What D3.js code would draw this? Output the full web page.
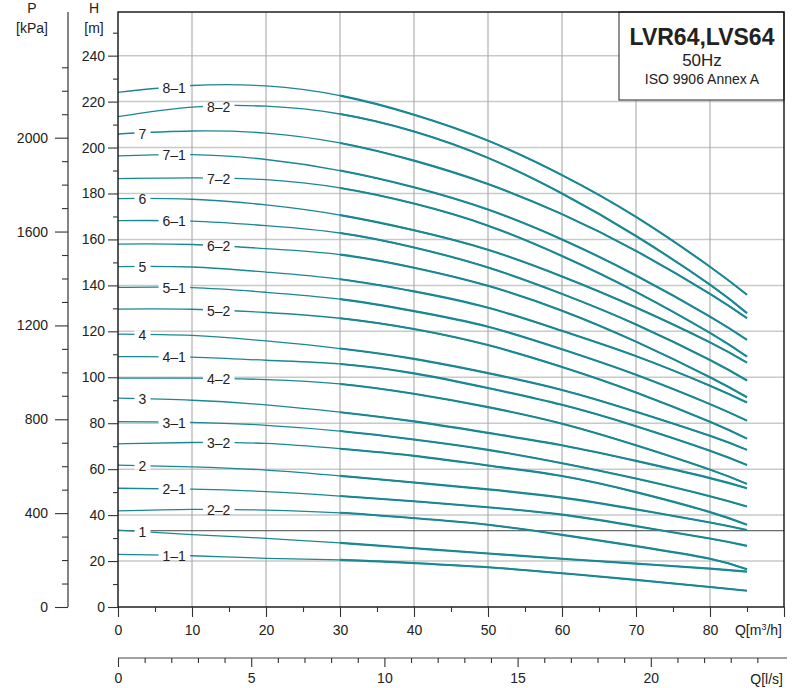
<!DOCTYPE html>
<html><head><meta charset="utf-8">
<script src="https://cdn.jsdelivr.net/npm/d3@7/dist/d3.min.js"></script>
<style>
body{margin:0;background:#fff}
svg{display:block}
text{font-family:"Liberation Sans",Arial,sans-serif;fill:#222}
</style>
</head><body>
<svg id="chart" width="800" height="688"></svg>
<script>
// ---- data ----
const flowQ = [0, 10, 20, 30, 40, 50, 60, 70, 80, 85];           // m3/h
const curveNames = ["8-1","8-2","7","7-1","7-2","6","6-1","6-2","5","5-1","5-2",
                    "4","4-1","4-2","3","3-1","3-2","2","2-1","2-2","1","1-1"];
const h8_1 = [224.0, 227.0, 226.8, 222.6, 214.3, 203.0, 188.0, 169.8, 148.1, 135.9];
const h8_2 = [213.5, 217.6, 218.0, 214.6, 207.0, 195.5, 180.0, 161.5, 140.3, 127.9];
const h7   = [205.9, 207.2, 206.3, 202.0, 194.3, 184.1, 171.0, 155.0, 136.3, 125.7];
const h7_1 = [196.4, 196.9, 194.8, 190.0, 182.7, 173.0, 160.0, 144.3, 126.4, 116.3];
const h7_2 = [186.5, 186.8, 186.0, 182.4, 175.6, 166.0, 152.8, 137.2, 119.3, 109.0];
const h6   = [177.8, 177.5, 175.0, 170.6, 164.0, 155.5, 143.9, 130.4, 115.2, 106.4];
const h6_1 = [168.2, 168.0, 166.0, 162.8, 156.5, 147.8, 136.3, 123.0, 107.5, 98.6];
const h6_2 = [158.0, 157.8, 156.0, 153.4, 147.7, 139.8, 129.0, 115.5, 100.0, 91.3];
const h5   = [148.2, 148.0, 145.8, 142.7, 137.4, 130.3, 120.2, 109.2, 96.3, 89.0];
const h5_1 = [139.1, 139.0, 137.0, 134.0, 128.8, 122.0, 112.2, 101.1, 88.3, 81.1];
const h5_2 = [129.7, 129.6, 128.2, 125.7, 121.0, 114.0, 104.5, 93.4, 80.6, 73.3];
const h4   = [118.8, 118.2, 115.8, 112.5, 108.0, 101.8, 94.5, 85.0, 74.5, 68.4];
const h4_1 = [109.0, 108.8, 107.4, 105.8, 101.7, 95.3, 88.0, 78.7, 68.0, 61.8];
const h4_2 = [99.6, 99.6, 99.0, 97.1, 92.8, 87.0, 79.8, 70.4, 59.8, 53.6];
const h3   = [90.9, 90.0, 88.0, 84.8, 80.8, 75.8, 70.4, 63.6, 56.1, 51.7];
const h3_1 = [80.7, 80.4, 79.1, 76.6, 72.9, 68.4, 62.6, 55.9, 48.2, 43.7];
const h3_2 = [71.0, 71.6, 71.2, 68.9, 65.8, 61.6, 57.0, 50.0, 41.3, 35.8];
const h2   = [61.8, 61.0, 59.6, 57.1, 54.2, 51.2, 47.6, 42.5, 36.8, 33.5];
const h2_1 = [51.7, 51.3, 50.2, 48.3, 46.0, 43.4, 40.2, 35.2, 29.8, 26.6];
const h2_2 = [41.8, 42.5, 42.2, 41.0, 38.7, 35.8, 31.4, 26.5, 21.0, 16.4];
const h1   = [33.5, 31.5, 29.9, 27.9, 25.6, 23.3, 21.0, 18.9, 16.7, 15.4];
const h1_1 = [22.9, 22.3, 21.2, 20.5, 19.1, 17.3, 14.7, 11.8, 8.7, 7.1];
const headSeries = [h8_1,h8_2,h7,h7_1,h7_2,h6,h6_1,h6_2,h5,h5_1,h5_2,
                    h4,h4_1,h4_2,h3,h3_1,h3_2,h2,h2_1,h2_2,h1,h1_1];
const referenceHead = 33.2;                 // dark horizontal line
const hTicks = d3.range(0, 241, 20);
const pTicks = [0, 400, 800, 1200, 1600, 2000];
const lsTicks = [0, 5, 10, 15, 20];
const titleLines = ["LVR64,LVS64", "50Hz", "ISO 9906 Annex A"];

// ---- layout ----
const L = 118, R = 784, T = 12, B = 607;
const svg = d3.select("#chart");
const x = d3.scaleLinear().domain([0, 90]).range([L, R]);
const y = d3.scaleLinear().domain([0, 259]).range([B, T]);
const kPaPerM = 9.79;
const p = d3.scaleLinear().domain([0, 259 * kPaPerM]).range([B, T]);
const ls = d3.scaleLinear().domain([0, 90 / 3.6]).range([L, R]);
const TEAL = "#1a8893";

// clip for the bold (operating) part of the curves, Q >= 30
svg.append("defs").append("clipPath").attr("id", "opRange")
  .append("rect").attr("x", x(30)).attr("y", 0).attr("width", R - x(30)).attr("height", 688);

// grid
const grid = svg.append("g");
grid.selectAll("line.h").data(hTicks.filter(d => d > 0)).join("line")
  .attr("x1", L).attr("x2", R).attr("y1", d => y(d)).attr("y2", d => y(d))
  .attr("stroke", "#c9c9c9").attr("stroke-width", 1.5);
grid.selectAll("line.v").data(d3.range(10, 81, 10)).join("line")
  .attr("y1", T).attr("y2", B).attr("x1", d => x(d)).attr("x2", d => x(d))
  .attr("stroke", "#a9a9a9").attr("stroke-width", 1.1);

// reference line
svg.append("line").attr("x1", L).attr("x2", R)
  .attr("y1", y(referenceHead)).attr("y2", y(referenceHead))
  .attr("stroke", "#444").attr("stroke-width", 1);

// curves
const curves = curveNames.map((n, i) => ({
  name: n,
  pts: flowQ.map((q, j) => ({q, h: headSeries[i][j]}))
}));
const line = d3.line().x(d => x(d.q)).y(d => y(d.h)).curve(d3.curveNatural);
const cg = svg.append("g");
curves.forEach(c => {
  const d = line(c.pts);
  cg.append("path").attr("d", d)
    .attr("fill", "none").attr("stroke", TEAL).attr("stroke-width", 1.3);
  cg.append("path").attr("d", d).attr("clip-path", "url(#opRange)")
    .attr("fill", "none").attr("stroke", TEAL).attr("stroke-width", 2.1);
});

// curve labels
const lg = svg.append("g");
curves.forEach(c => {
  const suffix = c.name.includes("-") ? c.name.split("-")[1] : "";
  const lq = suffix === "" ? 3.3 : (suffix === "1" ? 7.6 : 13.6);
  const interp = d3.scaleLinear().domain(flowQ).range(c.pts.map(d => d.h));
  const cx = x(lq), cy = y(interp(lq));
  const t = lg.append("text").attr("x", cx).attr("y", cy + 0.5)
    .attr("text-anchor", "middle").attr("dominant-baseline", "central")
    .attr("font-size", 14).text(c.name.replace("-", "\u2013"));
  const bb = t.node().getBBox();
  lg.insert("rect", "text").attr("x", bb.x - 4).attr("width", bb.width + 8)
    .attr("y", cy - 4).attr("height", 8).attr("fill", "#fff");
});

// title box
svg.append("rect").attr("x", 619).attr("y", T).attr("width", R - 619).attr("height", 88)
  .attr("fill", "#fff").attr("stroke", "#222").attr("stroke-width", 1);
svg.append("text").attr("x", 702).attr("y", 45).attr("text-anchor", "middle")
  .attr("font-size", 23).attr("font-weight", "bold").text(titleLines[0]);
svg.append("text").attr("x", 702).attr("y", 66).attr("text-anchor", "middle")
  .attr("font-size", 17).text(titleLines[1]);
svg.append("text").attr("x", 702).attr("y", 84).attr("text-anchor", "middle")
  .attr("font-size", 14).text(titleLines[2]);

// frame
svg.append("rect").attr("x", L).attr("y", T).attr("width", R - L).attr("height", B - T)
  .attr("fill", "none").attr("stroke", "#111").attr("stroke-width", 1.4);

function styleAxis(g) {
  g.select(".domain").remove();
  g.selectAll(".tick line").attr("stroke", "#333").attr("stroke-width", 1.1);
  g.selectAll(".tick text").attr("font-size", 14)
    .attr("font-family", "'Liberation Sans',Arial,sans-serif").attr("fill", "#222");
}

// H axis
svg.append("g").attr("transform", `translate(${L},0)`)
  .call(d3.axisLeft(y).tickValues(hTicks).tickSize(10).tickPadding(3).tickFormat(d3.format("d")))
  .call(styleAxis);
svg.append("g").attr("transform", `translate(${L},0)`)
  .call(d3.axisLeft(y).tickValues(d3.range(10, 251, 20)).tickSize(5).tickFormat(""))
  .call(styleAxis);

// P axis
const PX = 68;
svg.append("line").attr("x1", PX).attr("x2", PX).attr("y1", B).attr("y2", T)
  .attr("stroke", "#333").attr("stroke-width", 1.2);
svg.append("g").attr("transform", `translate(${PX},0)`)
  .call(d3.axisLeft(p).tickValues(pTicks).tickSize(13).tickPadding(7).tickFormat(d3.format("d")))
  .call(styleAxis);
svg.append("g").attr("transform", `translate(${PX},0)`)
  .call(d3.axisLeft(p).tickValues(d3.range(100, 2301, 100).filter(d => d % 400)).tickSize(6).tickFormat(""))
  .call(styleAxis);

// Q m3/h axis
svg.append("g").attr("transform", `translate(0,${B})`)
  .call(d3.axisBottom(x).tickValues(d3.range(0, 91, 10)).tickSize(10).tickPadding(8)
    .tickFormat(d => d <= 80 ? d : ""))
  .call(styleAxis);
svg.append("g").attr("transform", `translate(0,${B})`)
  .call(d3.axisBottom(x).tickValues(d3.range(5, 86, 10)).tickSize(5).tickFormat(""))
  .call(styleAxis);
const qlab = svg.append("text").attr("x", 782).attr("y", 635).attr("text-anchor", "end")
  .attr("font-size", 14);
qlab.append("tspan").text("Q[m");
qlab.append("tspan").attr("font-size", 9).attr("dy", -5).text("3");
qlab.append("tspan").attr("dy", 5).text("/h]");

// Q l/s axis
const LY = 658;
svg.append("line").attr("x1", L).attr("x2", 787).attr("y1", LY).attr("y2", LY)
  .attr("stroke", "#444").attr("stroke-width", 1.1);
svg.append("g").attr("transform", `translate(0,${LY})`)
  .call(d3.axisBottom(ls).tickValues(lsTicks).tickSize(9).tickPadding(6).tickFormat(d3.format("d")))
  .call(styleAxis);
svg.append("g").attr("transform", `translate(0,${LY})`)
  .call(d3.axisBottom(ls).tickValues(d3.range(0, 25, 1).filter(d => d % 5)).tickSize(5).tickFormat(""))
  .call(styleAxis);
svg.append("text").attr("x", 783).attr("y", 684).attr("text-anchor", "end")
  .attr("font-size", 14).text("Q[l/s]");

// axis titles
svg.append("text").attr("x", 32).attr("y", 13).attr("text-anchor", "middle").attr("font-size", 14).text("P");
svg.append("text").attr("x", 32).attr("y", 33).attr("text-anchor", "middle").attr("font-size", 14).text("[kPa]");
svg.append("text").attr("x", 94).attr("y", 13).attr("text-anchor", "middle").attr("font-size", 14).text("H");
svg.append("text").attr("x", 94).attr("y", 33).attr("text-anchor", "middle").attr("font-size", 14).text("[m]");
</script>
</body></html>
